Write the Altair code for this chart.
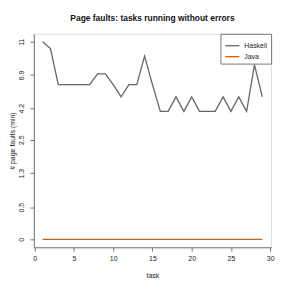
import altair as alt
import pandas as pd

tasks = list(range(1, 30))
haskell = [11, 10, 6, 6, 6, 6, 6, 7, 7, 6, 5, 6, 6, 9, 6, 4, 4, 5, 4, 5, 4, 4, 4, 5, 4, 5, 4, 8, 5]
java = [0] * 29
y_ticks = [0, 0.5, 1.3, 2.5, 4.2, 6.9, 11]
x_ticks = [0, 5, 10, 15, 20, 25, 30]

df = pd.DataFrame({
    "task": tasks * 2,
    "faults": haskell + java,
    "lang": ["Haskell"] * 29 + ["Java"] * 29,
})

FONT = "Liberation Sans"

chart = alt.Chart(df).mark_line(strokeWidth=1.3).encode(
    x=alt.X("task:Q",
            scale=alt.Scale(domain=[-0.12, 30.12], nice=False, zero=False),
            axis=alt.Axis(values=x_ticks, title="task", grid=False, tickSize=4,
                          labelPadding=3, titlePadding=10, labelFontSize=7,
                          titleFontSize=7, titleFontWeight="normal",
                          domainColor="#777", tickColor="#777",
                          labelColor="#222", titleColor="#222", labelFlush=False)),
    y=alt.Y("faults:Q",
            scale=alt.Scale(type="symlog", constant=1, domain=[-0.1045, 12.25],
                            nice=False, zero=False),
            axis=alt.Axis(values=y_ticks, title="# page faults (min)", grid=False,
                          tickSize=4, labelPadding=5, labelAngle=270,
                          labelAlign="center", labelBaseline="bottom",
                          labelFontSize=7, titleFontSize=7, titlePadding=2,
                          titleFontWeight="normal", domainColor="#777",
                          tickColor="#777", labelColor="#222", titleColor="#222",
                          labelFlush=False, format="~g")),
    color=alt.Color("lang:N",
                    scale=alt.Scale(domain=["Haskell", "Java"],
                                    range=["#666666", "#D95F02"]),
                    legend=alt.Legend(title=None, orient="none", legendX=188,
                                      legendY=0, symbolType="stroke",
                                      symbolSize=200, symbolStrokeWidth=1.3,
                                      labelFontSize=7, labelFont=FONT,
                                      strokeColor="#777", padding=4,
                                      rowPadding=0, labelColor="#222",
                                      fillColor="white")),
).properties(
    width=239,
    height=215,
    title=alt.TitleParams("Page faults: tasks running without errors",
                          fontSize=8.5, font=FONT, fontWeight="bold",
                          anchor="middle", offset=11, color="#111"),
    autosize="none",
    padding={"left": 26, "top": 25, "right": 12, "bottom": 36},
).configure_view(
    stroke="#777", strokeWidth=1
).configure_axis(
    labelFont=FONT, titleFont=FONT
).configure(background="white")

chart.save("out.html", embed_options={"renderer": "svg", "actions": False})
